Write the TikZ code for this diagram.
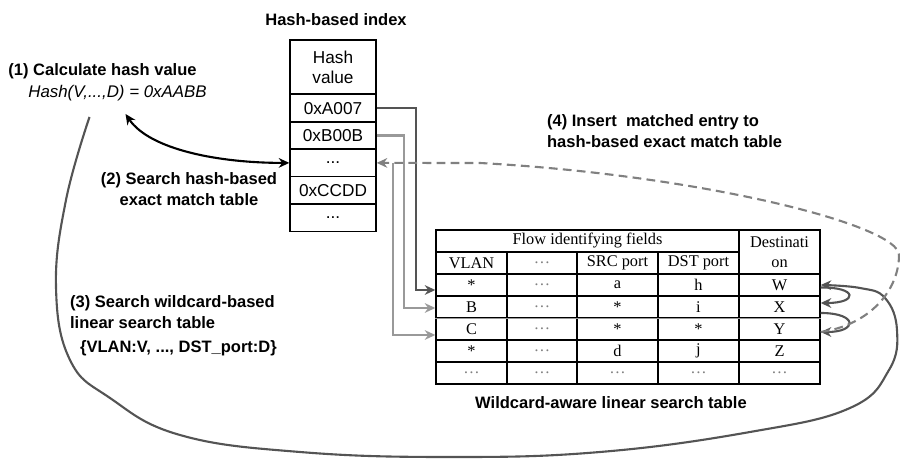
\documentclass[tikz,border=0pt]{standalone}
\usepackage{fontspec}
\setmainfont{Liberation Serif}
\setsansfont{Liberation Sans}
\usepackage{tikz}
\usetikzlibrary{arrows.meta,positioning,calc}
\definecolor{darkline}{gray}{0.33}
\definecolor{lightline}{gray}{0.6}
\definecolor{dashline}{gray}{0.5}

\tikzset{
  lbl/.style={font=\sffamily\bfseries\fontsize{9.4}{12}\selectfont, inner sep=1pt},
  hcell/.style={draw, line width=0.8pt, minimum width=1.72cm, minimum height=0.548cm,
    inner sep=0pt, font=\sffamily\fontsize{9.8}{11.3}\selectfont},
  tcell/.style={draw, line width=0.8pt, minimum height=0.44cm, inner sep=0pt,
    font=\fontsize{9.3}{11.3}\selectfont},
  ca/.style={minimum width=1.42cm},
  cb/.style={minimum width=1.40cm},
  cc/.style={minimum width=1.62cm},
  tip/.tip={Stealth[length=6pt,width=5.5pt]},
  link/.style={line width=1.2pt, -tip},
}
\newcommand{\dotcell}{\textcolor{gray}{\dots}}

\begin{document}
\begin{tikzpicture}[x=0.02cm,y=-0.02cm]
\useasboundingbox (0,0) rectangle (900,459);

% hash-based index
\node[lbl] (title) at (336,20) {Hash-based index};
\node[hcell, minimum height=1.08cm, align=center] (hv) at (333,67) {Hash\\value};
\node[hcell] (ha) at (333,108.1) {0xA007};
\node[hcell] (hb) at (333,135.5) {0xB00B};
\node[hcell] (hd) at (333,162.9) {...};
\node[hcell] (hc) at (333,190.3) {0xCCDD};
\node[hcell] (he) at (333,217.7) {...};

% steps
\node[lbl] (calc) at (102.5,71) {(1) Calculate hash value};
\node[font=\sffamily\itshape\fontsize{9.6}{12}\selectfont, inner sep=1pt] (hashfn) at (117.5,93) {Hash(V,...,D) = 0xAABB};
\node[lbl, align=center] (step2) at (189,189.5) {(2) Search hash-based\\exact match table};
\node[lbl, align=left, anchor=west] (step3) at (68,312.5) {(3) Search wildcard-based\\linear search table};
\node[lbl, anchor=west] (fields) at (78,348) {\{VLAN:V, ..., DST\_port:D\}};
\node[lbl, align=left, anchor=west] (step4) at (545,131.5) {(4) Insert\ \ matched entry to\\hash-based exact match table};

% wildcard-aware table
\node[tcell, minimum width=6.06cm] (flow) at (587.5,241) {Flow identifying fields};
\node[tcell, cc, minimum height=0.88cm, align=center] (dest) at (779.5,252) {Destinati\\on};
\node[tcell, ca] (vlan) at (471.5,263) {VLAN};
\node[tcell, cb] (dots) at (542,263) {\dotcell};
\node[tcell, cc] (src) at (617.5,263) {SRC port};
\node[tcell, cc] (dst) at (698.5,263) {DST port};

\node[tcell, ca] (v1) at (471.5,285) {*};
\node[tcell, cb] (e1) at (542,285) {\dotcell};
\node[tcell, cc] (s1) at (617.5,285) {a};
\node[tcell, cc] (d1) at (698.5,285) {h};
\node[tcell, cc] (dw) at (779.5,285) {W};

\node[tcell, ca] (v2) at (471.5,307) {B};
\node[tcell, cb] (e2) at (542,307) {\dotcell};
\node[tcell, cc] (s2) at (617.5,307) {*};
\node[tcell, cc] (d2) at (698.5,307) {i};
\node[tcell, cc] (dx) at (779.5,307) {X};

\node[tcell, ca] (v3) at (471.5,329) {C};
\node[tcell, cb] (e3) at (542,329) {\dotcell};
\node[tcell, cc] (s3) at (617.5,329) {*};
\node[tcell, cc] (d3) at (698.5,329) {*};
\node[tcell, cc] (dy) at (779.5,329) {Y};

\node[tcell, ca] (v4) at (471.5,351) {*};
\node[tcell, cb] (e4) at (542,351) {\dotcell};
\node[tcell, cc] (s4) at (617.5,351) {d};
\node[tcell, cc] (d4) at (698.5,351) {j};
\node[tcell, cc] (dz) at (779.5,351) {Z};

\node[tcell, ca] (v5) at (471.5,373) {\dotcell};
\node[tcell, cb] (e5) at (542,373) {\dotcell};
\node[tcell, cc] (s5) at (617.5,373) {\dotcell};
\node[tcell, cc] (d5) at (698.5,373) {\dotcell};
\node[tcell, cc] (de) at (779.5,373) {\dotcell};
\draw[lightline, line width=0.8pt] (v2.south west) -- (dx.south east);

\node[lbl] (caption) at (611,403) {Wildcard-aware linear search table};

% links from the index to the table
\draw[link, darkline] (ha.east) -- ++(39,0) |- ([yshift=-0.1cm]v1.west);
\draw[link, lightline] (hb.east) -- ++(27,0) |- ([yshift=-0.02cm]v2.west);
\draw[link, lightline] ([xshift=0.32cm]hd.east) |- ([yshift=-0.12cm]v3.west);

% (2) search
\draw[tip-tip, line width=1.2pt] ($(hashfn.south)+(8,11)$) .. controls (150,150) and (220,163) .. (hd.west);

% (3) search the linear table
\draw[link, darkline] plot[smooth, tension=0.7] coordinates {($(hashfn.south)+(-28,14)$) (66,200) (56,287) (70,360) (110,398) (180,435) (300,452) (450,457) (600,452) (750,432) (850,408) (889,370) (897,330) (885,298) (860,288) (dw.east)};

% next entries
\draw[link, darkline] ([yshift=-0.05cm]dw.east) .. controls (858,287) and (858,303) .. ([yshift=0.08cm]dx.east);
\draw[link, darkline] ([yshift=-0.12cm]dx.east) .. controls (858,313) and (858,332) .. ([yshift=-0.06cm]dy.east);

% (4) insert
\draw[link, dashline, dash pattern=on 5pt off 3pt] ([yshift=-0.06cm]dy.east) .. controls (870,325) and (899,290) .. (899,255) .. controls (899,225) and (700,175) .. (480,163) -- (hd.east);
\end{tikzpicture}
\end{document}
